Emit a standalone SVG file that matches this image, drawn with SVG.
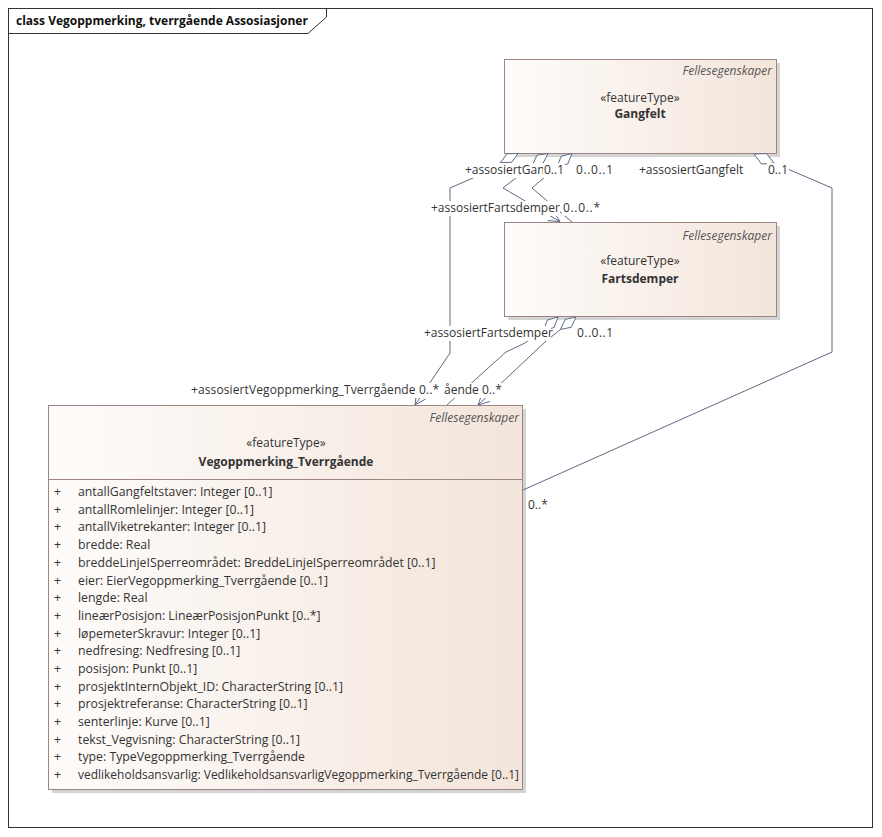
<svg xmlns="http://www.w3.org/2000/svg" width="882" height="837" viewBox="0 0 882 837">
<defs>
<linearGradient id="bg" x1="0" y1="0" x2="1" y2="0">
<stop offset="0" stop-color="#fefcfb"/>
<stop offset="1" stop-color="#f3e5da"/>
</linearGradient>
<style>
text{font-family:"Open Sans","Liberation Sans",sans-serif;fill:#333;}
.box{fill:url(#bg);stroke:#9d8585;stroke-width:1;}
.sh{fill:#d4d4d4;}
.st{font-size:12px;text-anchor:middle;}
.nm{font-size:12px;font-weight:bold;text-anchor:middle;}
.fe{font-size:12px;font-style:italic;text-anchor:end;fill:#555;}
.at{font-size:12.3px;}
.pl{font-size:12.3px;fill:#8b2a2a;}
.lb{font-size:12px;}
.bgr{fill:#fff;}
.c{fill:none;stroke:#5e6a83;stroke-width:1;}
.d{fill:#fff;stroke:#5e6a83;stroke-width:1;}
.ttl{font-size:12px;font-weight:bold;fill:#111;}
</style>
</defs>
<rect x="0" y="0" width="882" height="837" fill="#fff"/>
<g id="frame">
<rect x="8.5" y="8.5" width="864" height="819" fill="none" stroke="#333"/>
<path d="M8.5,33.5 H308 L326.5,17 V8.5" fill="none" stroke="#333"/>
<text class="ttl" x="16" y="25">class Vegoppmerking, tverrgående Assosiasjoner</text>
</g>
<g id="Gangfelt">
<rect class="sh" x="508" y="63" width="272" height="94"/>
<rect class="box" x="504.5" y="59.5" width="272" height="94"/>
<text class="fe" x="772" y="75">Fellesegenskaper</text>
<text class="st" x="640" y="102">«featureType»</text>
<text class="nm" x="640" y="118">Gangfelt</text>
</g>
<g id="Fartsdemper">
<rect class="sh" x="508" y="226" width="272" height="94"/>
<rect class="box" x="504.5" y="222.5" width="272" height="94"/>
<text class="fe" x="772" y="240">Fellesegenskaper</text>
<text class="st" x="640" y="265">«featureType»</text>
<text class="nm" x="640" y="283">Fartsdemper</text>
</g>
<g id="Vegoppmerking_Tverrgaende">
<rect class="sh" x="52" y="409" width="474" height="384"/>
<rect class="box" x="48.5" y="405.5" width="474" height="384"/>
<line x1="48.5" y1="479.5" x2="522.5" y2="479.5" stroke="#9d8585"/>
<text class="fe" x="519" y="422">Fellesegenskaper</text>
<text class="st" x="286" y="447">«featureType»</text>
<text class="nm" x="286" y="466">Vegoppmerking_Tverrgående</text>
<g class="pl">
<text x="54" y="496">+</text><text x="54" y="513.7">+</text><text x="54" y="531.4">+</text><text x="54" y="549.1">+</text>
<text x="54" y="566.8">+</text><text x="54" y="584.5">+</text><text x="54" y="602.1">+</text><text x="54" y="619.8">+</text>
<text x="54" y="637.5">+</text><text x="54" y="655.2">+</text><text x="54" y="672.9">+</text><text x="54" y="690.6">+</text>
<text x="54" y="708.3">+</text><text x="54" y="726">+</text><text x="54" y="743.7">+</text><text x="54" y="761.4">+</text>
<text x="54" y="779">+</text>
</g>
<g class="at">
<text x="78" y="496">antallGangfeltstaver: Integer [0..1]</text>
<text x="78" y="513.7">antallRomlelinjer: Integer [0..1]</text>
<text x="78" y="531.4">antallViketrekanter: Integer [0..1]</text>
<text x="78" y="549.1">bredde: Real</text>
<text x="78" y="566.8">breddeLinjeISperreområdet: BreddeLinjeISperreområdet [0..1]</text>
<text x="78" y="584.5">eier: EierVegoppmerking_Tverrgående [0..1]</text>
<text x="78" y="602.1">lengde: Real</text>
<text x="78" y="619.8">lineærPosisjon: LineærPosisjonPunkt [0..*]</text>
<text x="78" y="637.5">løpemeterSkravur: Integer [0..1]</text>
<text x="78" y="655.2">nedfresing: Nedfresing [0..1]</text>
<text x="78" y="672.9">posisjon: Punkt [0..1]</text>
<text x="78" y="690.6">prosjektInternObjekt_ID: CharacterString [0..1]</text>
<text x="78" y="708.3">prosjektreferanse: CharacterString [0..1]</text>
<text x="78" y="726">senterlinje: Kurve [0..1]</text>
<text x="78" y="743.7">tekst_Vegvisning: CharacterString [0..1]</text>
<text x="78" y="761.4">type: TypeVegoppmerking_Tverrgående</text>
<text x="78" y="779" textLength="441" lengthAdjust="spacingAndGlyphs">vedlikeholdsansvarlig: VedlikeholdsansvarligVegoppmerking_Tverrgående [0..1]</text>
</g>
</g>
<g id="connectors">
<path class="c" d="M500.5,162.7 L473,178 L450,188 L450,353 L415,405"/>
<polygon class="d" points="518,153.5 511.7,162.3 500.5,162.7 506.9,153.8"/>
<path class="c" d="M425.7,399 L415,405 L416.5,392.8"/>
<path class="c" d="M532.2,165.3 L503,188 L560,221.5"/>
<polygon class="d" points="548,153.5 543.2,163 532.2,165.3 537,155.2"/>
<path class="c" d="M547.7,220.6 L560,221.5 L553.3,211.2"/>
<path class="c" d="M557,166.7 L532,188 L572,222"/>
<polygon class="d" points="572,153.5 567.8,163.9 557,166.7 561.2,156.3"/>
<path class="c" d="M774,163.1 L832,188 L832,352 L523,490"/>
<polygon class="d" points="754,154 761.5,164.1 774,163.1 766.5,153.6"/>
<path class="c" d="M543.3,330.6 L525,343 L506,352 L447,405"/>
<polygon class="d" points="558,317 554.1,327.5 543.3,330.6 547.3,320.1"/>
<path class="c" d="M560.4,329.5 L545,342 L478,405"/>
<polygon class="d" points="576,317 571.3,327.2 560.4,329.5 565.1,319.4"/>
<path class="c" d="M489.8,401.5 L478,405 L482.2,393.5"/>
</g>
<g id="labels" class="lb">
<rect class="bgr" x="464" y="163" width="80" height="15"/><text x="465" y="174">+assosiertGan</text>
<rect class="bgr" x="543" y="163" width="22" height="15"/><text x="544" y="174">0..1</text>
<rect class="bgr" x="575" y="163" width="40" height="15"/><text x="576" y="174" textLength="37">0..0..1</text>
<rect class="bgr" x="638" y="163" width="107" height="15"/><text x="639" y="174">+assosiertGangfelt</text>
<rect class="bgr" x="767" y="163" width="22" height="15"/><text x="768" y="174">0..1</text>
<rect class="bgr" x="430" y="201" width="130" height="15"/><text x="431" y="212">+assosiertFartsdemper</text>
<rect class="bgr" x="562" y="201" width="40" height="15"/><text x="563" y="212" textLength="37">0..0..*</text>
<rect class="bgr" x="423" y="326" width="128" height="15"/><text x="424" y="337">+assosiertFartsdemper</text>
<rect class="bgr" x="576" y="326" width="38" height="15"/><text x="577" y="337" textLength="36">0..0..1</text>
<rect class="bgr" x="190" y="383" width="251" height="15"/><text x="191" y="394" textLength="248">+assosiertVegoppmerking_Tverrgående 0..*</text>
<rect class="bgr" x="443" y="383" width="61" height="15"/><text x="444" y="394">ående 0..*</text>
<text x="528" y="509">0..*</text>
</g>
</svg>
